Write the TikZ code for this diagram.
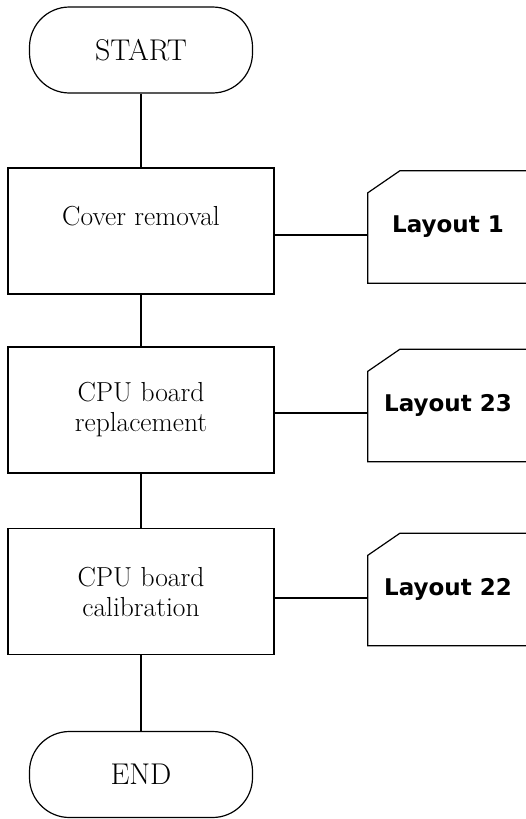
\documentclass[tikz,border=0pt]{standalone}
\usepackage{fontspec}
\newfontfamily\layoutfont{DejaVu Sans}
\usetikzlibrary{calc}
\tikzset{terminal/.style={draw,line width=1.2pt,rounded corners=40pt,minimum width=223pt,minimum height=86pt,font=\fontsize{30}{34}\selectfont}}
\tikzset{stepbox/.style={draw,line width=1.2pt,minimum width=266pt,minimum height=126pt,align=center,font=\fontsize{27.5}{30}\selectfont}}
\tikzset{card/.style={minimum width=160pt,minimum height=112pt,font=\layoutfont\bfseries\fontsize{23}{28}\selectfont}}
\tikzset{cardline/.style={line width=1.2pt,line join=miter}}
\tikzset{link/.style={line width=1.2pt}}

\begin{document}
\begin{tikzpicture}[x=1pt,y=1pt]
    \useasboundingbox (0,0) rectangle (526,-819);
    \node [terminal] (start) at (141,-50) {START};
    \node [stepbox] (s1) at (141,-231) {Cover removal\\~};
    \node [stepbox] (s2) at (141,-410) {CPU board\\replacement};
    \node [stepbox] (s3) at (141,-591.5) {CPU board\\calibration};
    \node [terminal] (end) at (141,-774.5) {END};
    \node [card] (c1) at (448,-227) {Layout 1};
    \node [card] (c2) at (448,-405.5) {Layout 23};
    \node [card] (c3) at (448,-589.5) {Layout 22};
    \foreach \c in {c1,c2,c3}
        \draw [cardline] (\c.north east) -- ([xshift=32pt]\c.north west) -- ([yshift=-22pt]\c.north west) -- (\c.south west) -- (\c.south east);
    \draw [link] (start) -- (s1);
    \draw [link] (s1) -- (s2);
    \draw [link] (s2) -- (s3);
    \draw [link] (s3) -- (end);
    \draw [link] ([yshift=-4pt]s1.east) -- ([yshift=-4pt]s1.east -| c1.west);
    \draw [link] ([yshift=-3pt]s2.east) -- ([yshift=-3pt]s2.east -| c2.west);
    \draw [link] ([yshift=-6.5pt]s3.east) -- ([yshift=-6.5pt]s3.east -| c3.west);
\end{tikzpicture}
\end{document}
